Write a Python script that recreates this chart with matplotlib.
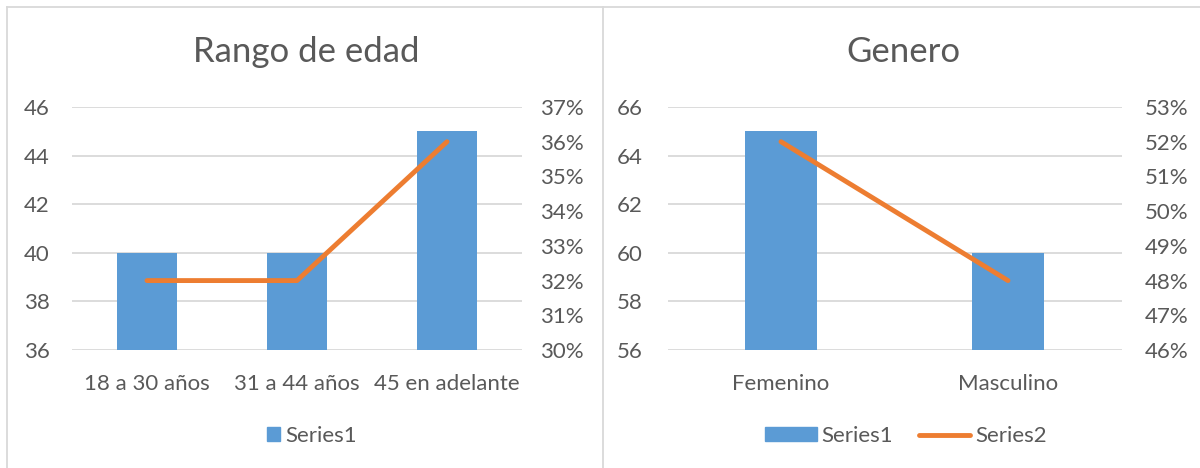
import matplotlib
matplotlib.use("Agg")
import matplotlib.pyplot as plt
from matplotlib.ticker import FuncFormatter, MultipleLocator
from matplotlib.lines import Line2D
from matplotlib.patches import Patch

# ---- data ----
age_categories = ["18 a 30 años", "31 a 44 años", "45 en adelante"]
age_counts = [40, 40, 45]
age_pct = [32, 32, 36]

gender_categories = ["Femenino", "Masculino"]
gender_counts = [65, 60]
gender_pct = [52, 48]

left_title = "Rango de edad"
right_title = "Genero"

BLUE = "#5B9BD5"
ORANGE = "#ED7D31"
TXT = "#595959"
GRID = "#D9D9D9"
FONT = "Lato"

plt.rcParams["font.family"] = [FONT, "DejaVu Sans"]

W, H = 1200, 468
fig = plt.figure(figsize=(W / 100, H / 100), dpi=100)


def fx(px):
    return px / W


def fy(py):
    return 1 - py / H


def style(ax, ax2, ylim, ylim2, left_pad, right_pad):
    for a in (ax, ax2):
        for s in a.spines.values():
            s.set_visible(False)
        a.tick_params(length=0, colors=TXT, labelsize=16)
    ax.set_ylim(*ylim)
    ax.yaxis.set_major_locator(MultipleLocator(2))
    ax2.set_ylim(*ylim2)
    ax2.yaxis.set_major_locator(MultipleLocator(1))
    ax2.yaxis.set_major_formatter(FuncFormatter(lambda v, p: f"{v:.0f}%"))
    ax.grid(axis="y", color=GRID, linewidth=1.3)
    ax.set_axisbelow(True)
    ax.tick_params(axis="y", pad=left_pad)
    ax2.tick_params(axis="y", pad=right_pad)
    ax.tick_params(axis="x", pad=17)


# ---- left chart ----
axL = fig.add_axes([fx(72), fy(350), fx(450), fy(107) - fy(350)])
xl = list(range(len(age_categories)))
axL.bar(xl, age_counts, width=0.4, color=BLUE, zorder=2)
axL.set_xlim(-0.5, len(age_categories) - 0.5)
axL.set_xticks(xl)
axL.set_xticklabels(age_categories)
axL2 = axL.twinx()
axL2.plot(xl, age_pct, color=ORANGE, linewidth=3.5, solid_capstyle="round")
style(axL, axL2, (36, 46), (30, 37), 16, 13)
fig.text(fx(306), fy(52), left_title, ha="center", va="center", fontsize=25, color=TXT)
fig.legend(handles=[Patch(color=BLUE, label="Series1")], loc="center",
           bbox_to_anchor=(fx(312), fy(436)), frameon=False, fontsize=16,
           handlelength=0.6, handleheight=0.6, handletextpad=0.25, labelcolor=TXT)

# ---- right chart ----
axR = fig.add_axes([fx(667.5), fy(350), fx(454), fy(107) - fy(350)])
xr = list(range(len(gender_categories)))
axR.bar(xr, gender_counts, width=0.317, color=BLUE, zorder=2)
axR.set_xlim(-0.5, len(gender_categories) - 0.5)
axR.set_xticks(xr)
axR.set_xticklabels(gender_categories)
axR2 = axR.twinx()
axR2.plot(xr, gender_pct, color=ORANGE, linewidth=3.5, solid_capstyle="round")
style(axR, axR2, (56, 66), (46, 53), 18, 17)
fig.text(fx(903), fy(52), right_title, ha="center", va="center", fontsize=25, color=TXT)
fig.legend(handles=[Patch(color=BLUE, label="Series1"),
                    Line2D([], [], color=ORANGE, linewidth=3.5, solid_capstyle="round", label="Series2")],
           loc="center", bbox_to_anchor=(fx(906), fy(436)), frameon=False, fontsize=16, ncol=2,
           handlelength=2.3, handleheight=0.6, handletextpad=0.2, columnspacing=1.2, labelcolor=TXT)

# ---- panel borders ----
for (x0, y0, x1, y1) in [(7, 7, 1200, 7), (7, 7, 7, 468), (603, 7, 603, 468)]:
    fig.add_artist(Line2D([fx(x0), fx(x1)], [fy(y0), fy(y1)], color=GRID, linewidth=1.3,
                          transform=fig.transFigure))

fig.savefig("out.png", dpi=100, facecolor="white")
